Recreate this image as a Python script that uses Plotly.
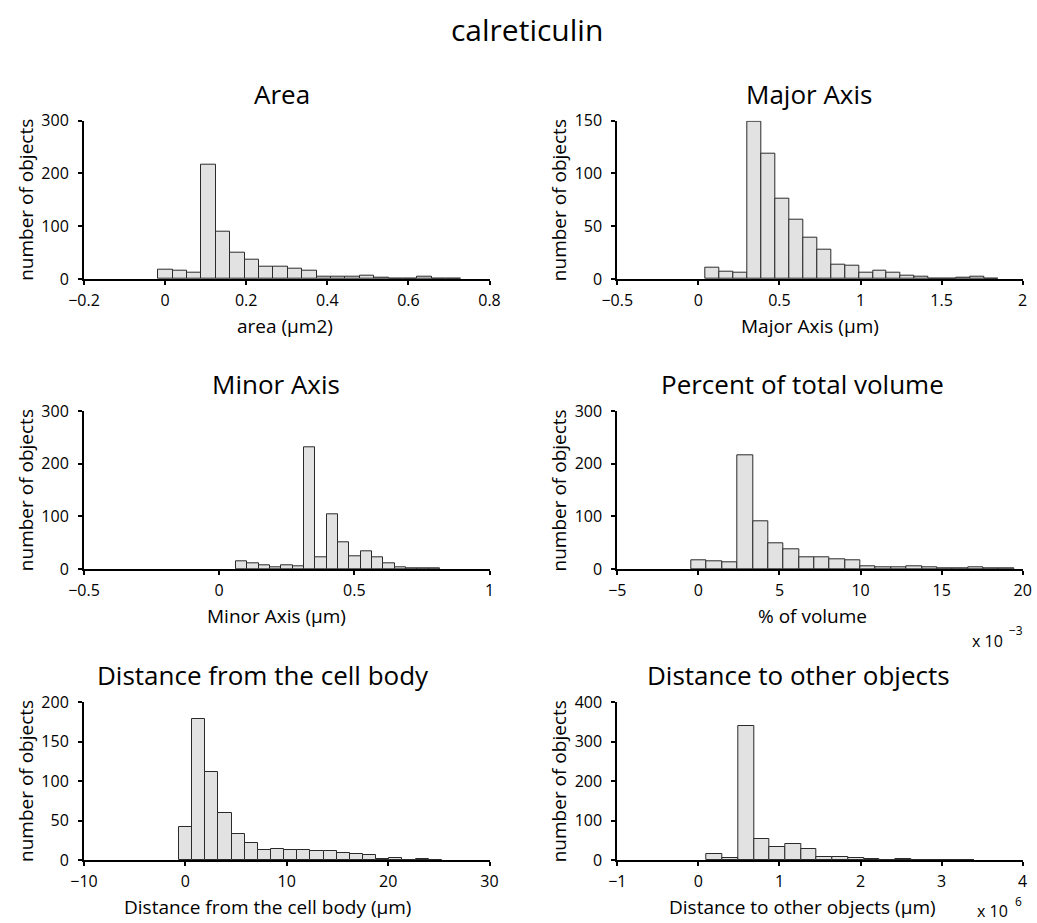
import plotly.graph_objects as go

W, H = 1037, 923

# ---------------- data ----------------
main_title = "calreticulin"

panel_titles = ["Area", "Major Axis", "Minor Axis", "Percent of total volume",
                "Distance from the cell body", "Distance to other objects"]
x_titles = ["area (µm2)", "Major Axis (µm)", "Minor Axis (µm)", "% of volume",
            "Distance from the cell body (µm)", "Distance to other objects (µm)"]
y_title = "number of objects"

# histogram bins: centre of first bin, bin width, counts
area_first, area_width = 0.001, 0.0355
area_counts = [17, 15, 12, 217, 90, 49, 37, 23, 23, 19, 16, 5, 4, 4, 6, 3, 1, 1, 4, 1, 1]

major_first, major_width = 0.088, 0.0859
major_counts = [11, 7, 6, 149, 119, 76, 56, 39, 28, 14, 13, 6, 8, 6, 3, 2, 0, 0, 1, 2, 0]

minor_first, minor_width = 0.0835, 0.0419
minor_counts = [14, 10, 7, 4, 7, 5, 231, 23, 105, 51, 25, 33, 22, 10, 3, 2, 1, 1]

volume_first, volume_width = 0.038, 0.948
volume_counts = [17, 15, 12, 217, 90, 49, 37, 23, 23, 19, 16, 5, 4, 4, 6, 3, 1, 1, 4, 1, 1]

cellbody_first, cellbody_width = 0.023, 1.296
cellbody_counts = [42, 178, 112, 60, 33, 21, 13, 14, 13, 13, 11, 11, 9, 8, 6, 1, 2, 0, 1, 0]

other_first, other_width = 0.199, 0.194
other_counts = [16, 6, 338, 54, 33, 40, 28, 7, 8, 5, 3, 1, 2, 1, 1, 0, 1]

x_ranges = [[-0.2, 0.8], [-0.5, 2], [-0.5, 1], [-5, 20], [-10, 30], [-1, 4]]
x_dticks = [0.2, 0.5, 0.5, 5, 10, 1]
y_ranges = [[0, 300], [0, 150], [0, 300], [0, 300], [0, 200], [0, 400]]
y_dticks = [100, 50, 100, 100, 50, 100]

exponent_labels = ["", "", "", "−3", "", "6"]

panels = [
    (area_first, area_width, area_counts),
    (major_first, major_width, major_counts),
    (minor_first, minor_width, minor_counts),
    (volume_first, volume_width, volume_counts),
    (cellbody_first, cellbody_width, cellbody_counts),
    (other_first, other_width, other_counts),
]

# ---------------- layout geometry (pixels) ----------------
col_x = [(84, 489.5), (617.3, 1022.7)]
row_y = [(120.7, 279), (411.3, 569), (702, 860)]
title_cx = [282, 809, 276, 802, 263, 798]
xtitle_cx = [285, 810, 276, 812, 267, 802]
# "x 10" label: right edge, centre y; exponent: left edge, centre y
exp_pos = {3: (1005, 641, 1007, 630), 5: (1010, 911, 1013, 901)}

FONT = "Open Sans"
INK = "#000"
BAR_FILL = "#e2e2e2"
BAR_LINE = "#2a2a2a"

fig = go.Figure()
annotations = []


def px_x(p):
    return p / W


def px_y(p):
    return 1 - p / H


for i, (first, width, counts) in enumerate(panels):
    r, c = divmod(i, 2)
    ax = "" if i == 0 else str(i + 1)
    x0, x1 = col_x[c]
    yt, yb = row_y[r]
    centers = [first + k * width for k in range(len(counts))]
    fig.add_trace(go.Bar(
        x=centers, y=counts, width=width,
        marker=dict(color=BAR_FILL, line=dict(color=BAR_LINE, width=1)),
        xaxis="x" + ax, yaxis="y" + ax, showlegend=False,
    ))
    common = dict(showgrid=False, zeroline=False, showline=True, linecolor="black",
                  linewidth=2, ticks="outside", ticklen=4, tickwidth=1.5, automargin=False,
                  tickcolor="black", tickfont=dict(family=FONT, size=16, color=INK))
    fig.layout["xaxis" + ax] = dict(
        domain=[px_x(x0), px_x(x1)], anchor="y" + ax, range=x_ranges[i],
        tick0=0, dtick=x_dticks[i], ticklabelstandoff=2, **common)
    fig.layout["yaxis" + ax] = dict(
        domain=[px_y(yb), px_y(yt)], anchor="x" + ax, range=y_ranges[i],
        tick0=0, dtick=y_dticks[i], ticklabelstandoff=6, **common)

    # panel title
    annotations.append(dict(
        text=panel_titles[i], x=px_x(title_cx[i]), y=px_y(yt - 27), xref="paper", yref="paper",
        xanchor="center", yanchor="middle", showarrow=False,
        font=dict(family=FONT, size=26, color=INK)))
    # x title
    annotations.append(dict(
        text=x_titles[i], x=px_x(xtitle_cx[i]), y=px_y(yb + 47), xref="paper", yref="paper",
        xanchor="center", yanchor="middle", showarrow=False,
        font=dict(family=FONT, size=19, color=INK)))
    # y title
    annotations.append(dict(
        text=y_title, x=px_x(x0 - 58), y=px_y((yt + yb) / 2), xref="paper", yref="paper",
        xanchor="center", yanchor="middle", textangle=-90, showarrow=False,
        font=dict(family=FONT, size=19, color=INK)))
    # scale factor label
    if exponent_labels[i]:
        bx, by, ex, ey = exp_pos[i]
        annotations.append(dict(
            text="x 10", x=px_x(bx), y=px_y(by), xref="paper", yref="paper",
            xanchor="right", yanchor="middle", showarrow=False,
            font=dict(family=FONT, size=16, color=INK)))
        annotations.append(dict(
            text=exponent_labels[i], x=px_x(ex), y=px_y(ey), xref="paper", yref="paper",
            xanchor="left", yanchor="middle", showarrow=False,
            font=dict(family=FONT, size=12, color=INK)))

annotations.append(dict(
    text=main_title, x=px_x(527), y=px_y(30), xref="paper", yref="paper",
    xanchor="center", yanchor="middle", showarrow=False,
    font=dict(family=FONT, size=30, color=INK)))

fig.update_layout(
    width=W, height=H, margin=dict(l=0, r=0, t=0, b=0, pad=0, autoexpand=False),
    paper_bgcolor="white", plot_bgcolor="white",
    bargap=0, annotations=annotations, showlegend=False,
)

fig.write_html("out.html")
